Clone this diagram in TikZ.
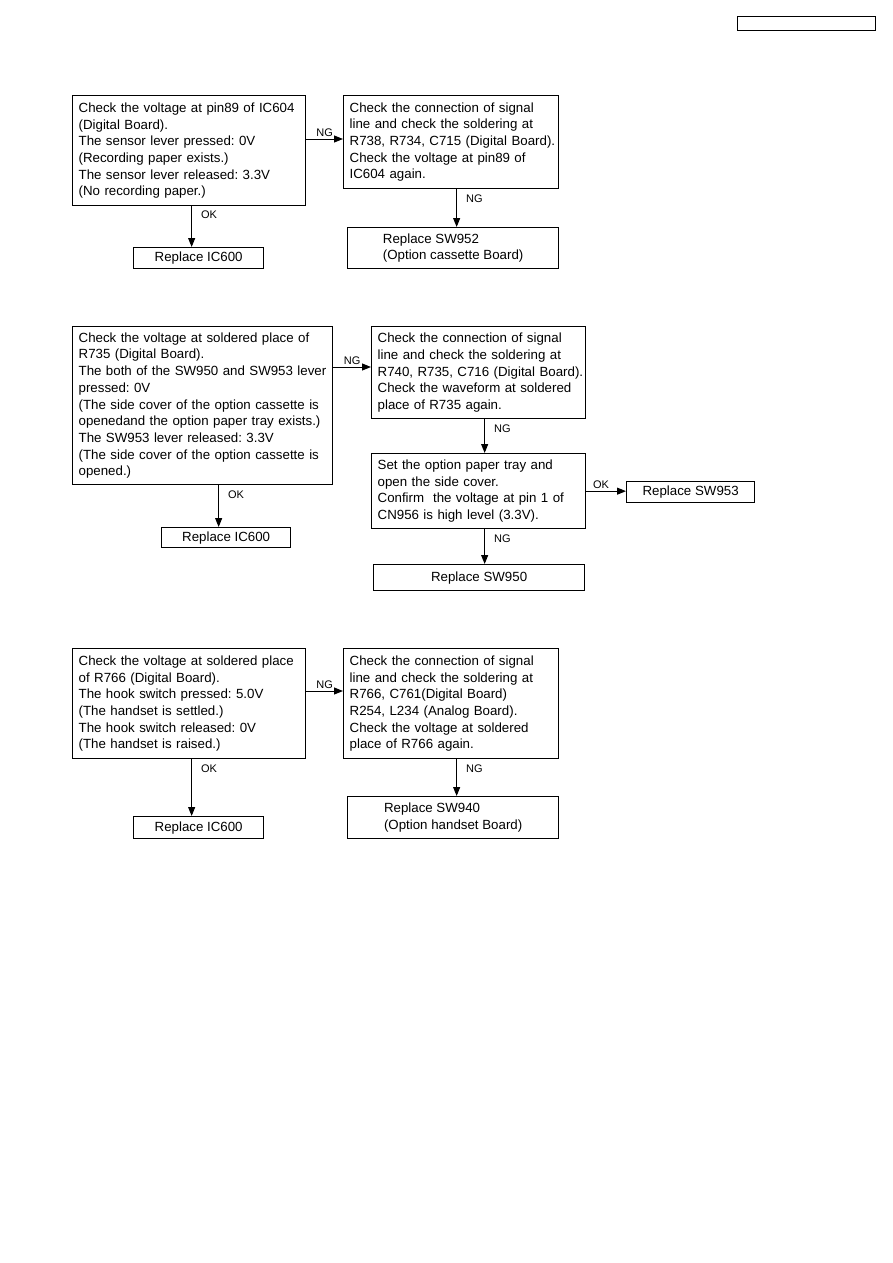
\documentclass[tikz,border=0pt]{standalone}
\usepackage{fontspec}
\setmainfont{Liberation Sans}
\usetikzlibrary{arrows.meta,positioning,calc}
\frenchspacing
\hfuzz=20pt

\begin{document}
\begin{tikzpicture}[
  x=1pt, y=-1pt,
  box/.style={draw, line width=1.3pt, anchor=north west, align=left, inner xsep=6pt, inner ysep=0pt,
    font=\fontsize{13.3}{16.7}\selectfont},
  rep/.style={draw, line width=1.3pt, anchor=north west, align=left, inner sep=0pt,
    font=\fontsize{13.3}{16.7}\selectfont},
  arr/.style={-{Triangle[width=7pt,length=9pt]}, line width=1pt},
  lbl/.style={font=\fontsize{11}{13}\selectfont, inner sep=2pt}
]
  \useasboundingbox (0,0) rectangle (893,1263);
  \node[draw, line width=1pt, anchor=north west, minimum width=138pt, minimum height=14pt, inner sep=0pt] (hdr) at (737,16) {};

  % first chart
  \node[box, text width=221pt, minimum height=110pt] (chk1) at (72,95) {Check the voltage at pin89 of IC604\\(Digital Board).\\The sensor lever pressed: 0V\\(Recording paper exists.)\\The sensor lever released: 3.3V\\(No recording paper.)};
  \node[box, text width=203pt, minimum height=93pt] (fix1) at (343,95) {Check the connection of signal\\line and check the soldering at\\\mbox{R738, R734, C715 (Digital Board).}\\Check the voltage at pin89 of\\IC604 again.};
  \node[rep, minimum width=130pt, minimum height=21pt] (ic1) at (133,247) {Replace IC600};
  \node[rep, minimum width=211pt, minimum height=41pt] (sw952) at (347,227) {Replace SW952\\(Option cassette Board)};

  \draw[arr] ([yshift=-44pt]chk1.north east) -- ([yshift=-44pt]fix1.north west) node[lbl, midway, above] {NG};
  \draw[arr] ($(chk1.south)+(2.5,0)$) -- ($(ic1.north)+(-7,0)$) node[lbl, pos=0.21, right=7pt] {OK};
  \draw[arr] ($(fix1.south)+(5.5,0)$) -- ($(sw952.north)+(3.5,0)$) node[lbl, pos=0.26, right=7pt] {NG};

  % second chart
  \node[box, text width=248pt, minimum height=158pt] (chk2) at (72,326) {Check the voltage at soldered place of\\R735 (Digital Board).\\The both of the SW950 and SW953 lever\\pressed: 0V\\(The side cover of the option cassette is\\openedand the option paper tray exists.)\\The SW953 lever released: 3.3V\\(The side cover of the option cassette is\\opened.)};
  \node[box, text width=202pt, minimum height=92pt] (fix2) at (371,326) {Check the connection of signal\\line and check the soldering at\\\mbox{R740, R735, C716 (Digital Board).}\\Check the waveform at soldered\\place of R735 again.};
  \node[box, text width=202pt, minimum height=75pt] (tray) at (371,453) {Set the option paper tray and\\open the side cover.\\Confirm\ \ the voltage at pin 1 of\\CN956 is high level (3.3V).};
  \node[rep, minimum width=128pt, minimum height=21pt] (sw953) at (626,481) {Replace SW953};
  \node[rep, minimum width=129pt, minimum height=20pt] (ic2) at (161,527) {Replace IC600};
  \node[rep, minimum width=211pt, minimum height=26pt] (sw950) at (373,564) {Replace SW950};

  \draw[arr] ([yshift=-41pt]chk2.north east) -- ([yshift=-41pt]fix2.north west) node[lbl, midway, above] {NG};
  \draw[arr] ($(chk2.south)+(16,0)$) -- ($(ic2.north)+(-7.5,0)$) node[lbl, pos=0.23, right=7pt] {OK};
  \draw[arr] ($(fix2.south)+(6,0)$) -- ($(tray.north)+(6,0)$) node[lbl, pos=0.29, right=7pt] {NG};
  \draw[arr] (tray.east) -- (tray.east -| sw953.west) node[lbl, pos=0.37, above] {OK};
  \draw[arr] ($(tray.south)+(6,0)$) -- ($(sw950.north)+(5.5,0)$) node[lbl, pos=0.28, right=7pt] {NG};

  % third chart
  \node[box, text width=221pt, minimum height=110pt] (chk3) at (72,648) {Check the voltage at soldered place\\of R766 (Digital Board).\\The hook switch pressed: 5.0V\\(The handset is settled.)\\The hook switch released: 0V\\(The handset is raised.)};
  \node[box, text width=203pt, minimum height=110pt] (fix3) at (343,648) {Check the connection of signal\\line and check the soldering at\\R766, C761(Digital Board)\\R254, L234 (Analog Board).\\Check the voltage at soldered\\place of R766 again.};
  \node[rep, minimum width=130pt, minimum height=22pt] (ic3) at (133,816) {Replace IC600};
  \node[rep, minimum width=211pt, minimum height=42pt] (sw940) at (347,796) {Replace SW940\\(Option handset Board)};

  \draw[arr] ([yshift=-43pt]chk3.north east) -- ([yshift=-43pt]fix3.north west) node[lbl, midway, above] {NG};
  \draw[arr] ($(chk3.south)+(2.5,0)$) -- ($(ic3.north)+(-7,0)$) node[lbl, pos=0.17, right=7pt] {OK};
  \draw[arr] ($(fix3.south)+(5.5,0)$) -- ($(sw940.north)+(3.5,0)$) node[lbl, pos=0.26, right=7pt] {NG};
\end{tikzpicture}
\end{document}
